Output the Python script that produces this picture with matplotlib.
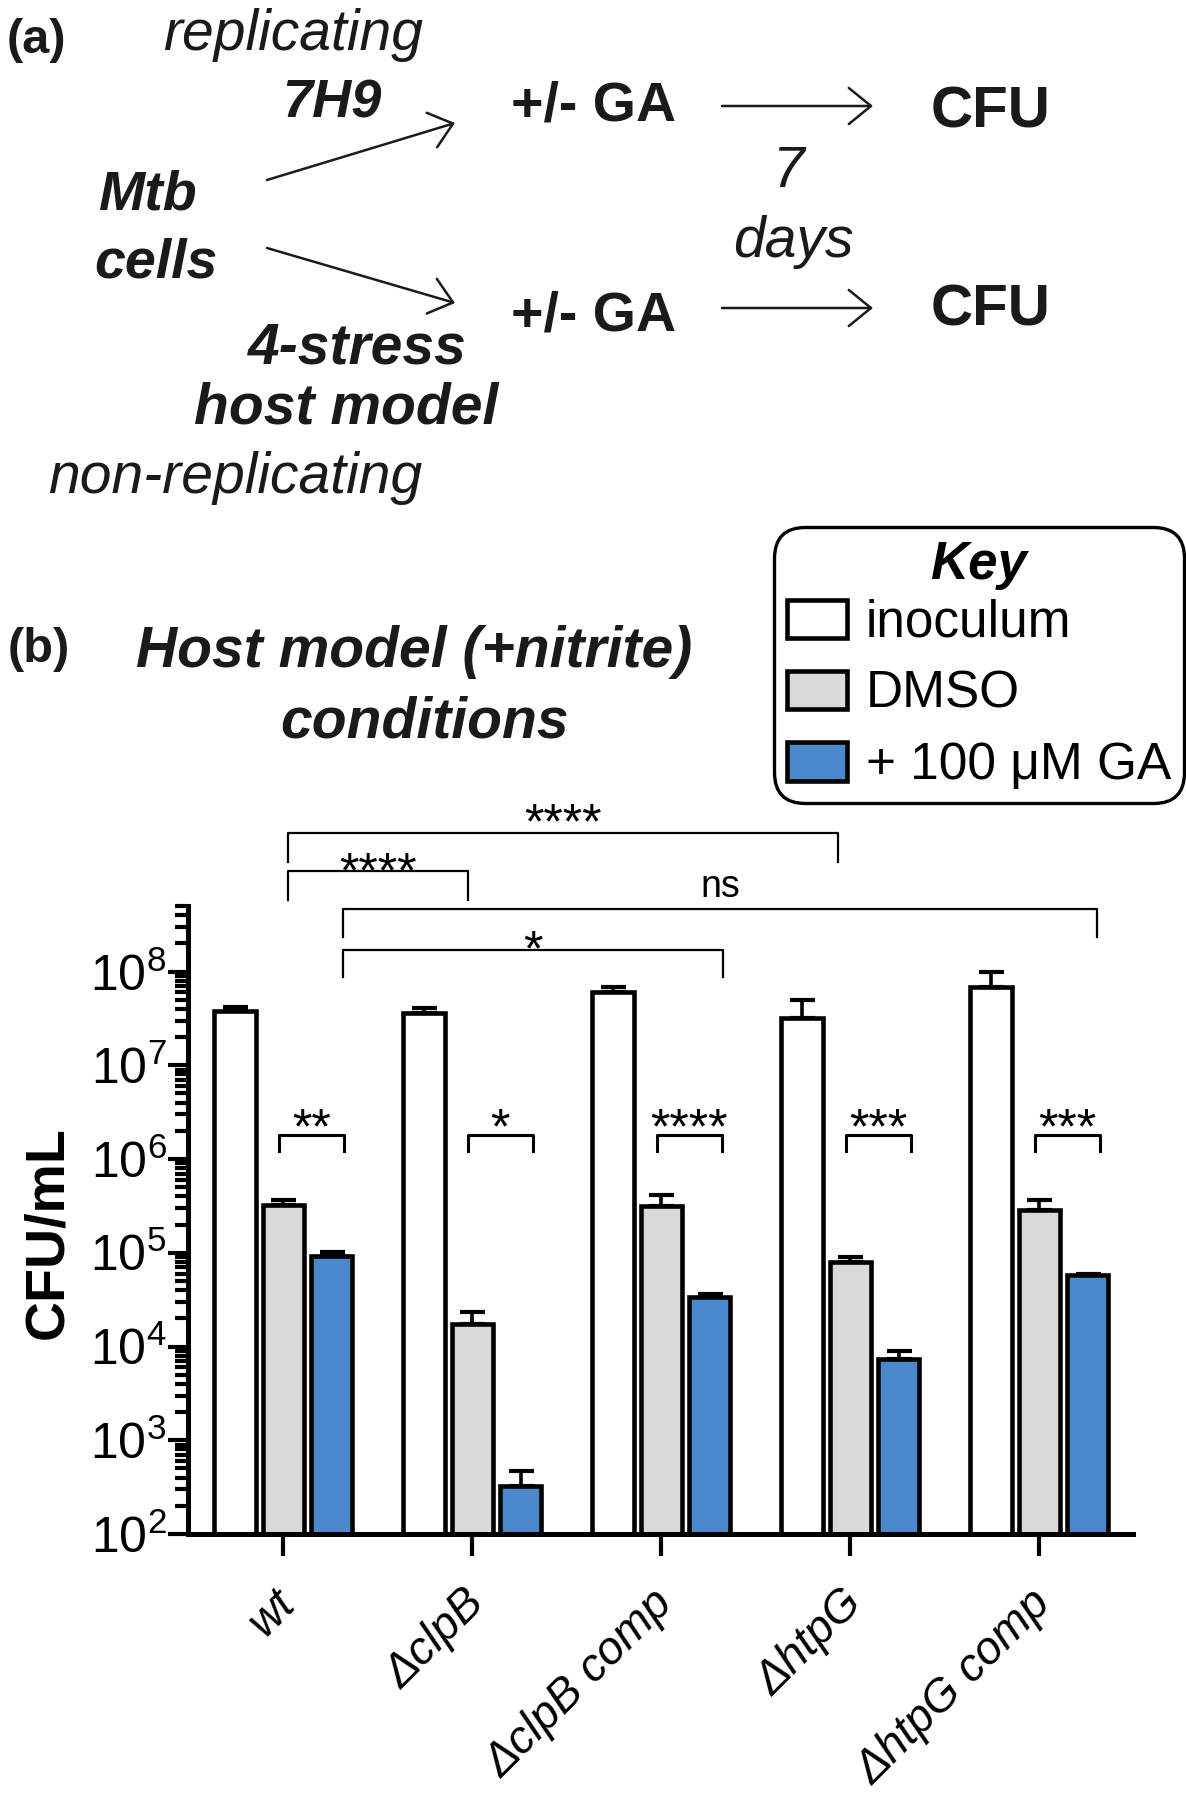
import numpy as np
import matplotlib
matplotlib.use("Agg")
import matplotlib.pyplot as plt
from matplotlib.patches import FancyArrowPatch
from matplotlib.ticker import LogLocator, NullFormatter
from matplotlib.transforms import blended_transform_factory, ScaledTranslation

plt.rcParams["font.family"] = ["Liberation Sans", "DejaVu Sans"]
plt.rcParams["mathtext.fontset"] = "custom"
plt.rcParams["mathtext.rm"] = "Liberation Sans"
plt.rcParams["mathtext.it"] = "Liberation Sans:italic"
plt.rcParams["mathtext.bf"] = "Liberation Sans:bold"

# values (CFU/mL, mean and upper error bar)
strains = ["wt", "ΔclpB", "ΔclpB comp", "ΔhtpG", "ΔhtpG comp"]
inoculum = [3.8e7, 3.65e7, 6.0e7, 3.2e7, 6.8e7]
inoculum_err = [0.4e7, 0.42e7, 0.8e7, 1.8e7, 3.1e7]
dmso = [3.2e5, 1.75e4, 3.15e5, 8.0e4, 2.85e5]
dmso_err = [0.45e5, 0.58e4, 1.0e5, 1.0e4, 0.8e5]
ga = [9.2e4, 325, 3.4e4, 7.4e3, 5.8e4]
ga_err = [1.1e4, 140, 2.5e3, 1.6e3, 1.5e3]
series_names = ["inoculum", "DMSO", "+ 100 μM GA"]
series_colors = ["white", "#d9d9d9", "#4a88c9"]

# significance DMSO vs GA inside each strain
sig_within = ["**", "*", "****", "***", "***"]
# significance between strains: x start, x end, label
sig_between = [(0.03, 2.94, "****"), (0.03, 0.98, "****"),
               (0.32, 4.31, "ns"), (0.32, 2.33, "*")]

W, H = 1186, 1800
fig = plt.figure(figsize=(W / 100, H / 100), dpi=100)


def ftext(px, py, s, **kw):
    fig.text(px / W, 1 - py / H, s, va="baseline", color="#1a1a1a", **kw)


def farrow(p0, p1):
    a = FancyArrowPatch((p0[0] / W, 1 - p0[1] / H), (p1[0] / W, 1 - p1[1] / H),
                        transform=fig.transFigure,
                        arrowstyle="->,head_length=0.8,head_width=0.65",
                        mutation_scale=20, lw=1.8, color="#1a1a1a",
                        shrinkA=0, shrinkB=0)
    fig.add_artist(a)


# ---- panel (a): schematic ----
ftext(7, 53, "(a)", fontsize=35, fontweight="bold")
ftext(163, 50, "replicating", fontsize=41, style="italic")
ftext(332, 118, "7H9", fontsize=39, fontweight="bold", style="italic", ha="center")
ftext(147, 210, "Mtb", fontsize=40, fontweight="bold", style="italic", ha="center")
ftext(156, 278, "cells", fontsize=40, fontweight="bold", style="italic", ha="center")
ftext(511, 120, "+/- GA", fontsize=40, fontweight="bold")
ftext(511, 330, "+/- GA", fontsize=40, fontweight="bold")
ftext(931, 127, "CFU", fontsize=42, fontweight="bold")
ftext(931, 325, "CFU", fontsize=42, fontweight="bold")
ftext(788, 187, "7", fontsize=41, style="italic", ha="center")
ftext(793, 257, "days", fontsize=41, style="italic", ha="center")
ftext(357, 363, "4-stress", fontsize=41, fontweight="bold", style="italic", ha="center")
ftext(346, 423, "host model", fontsize=41, fontweight="bold", style="italic", ha="center")
ftext(48, 493, "non-replicating", fontsize=41, style="italic")
farrow((267, 180), (455, 123))
farrow((267, 248), (455, 303))
farrow((722, 106), (873, 106))
farrow((722, 308), (873, 308))

# ---- panel (b): bar chart ----
ftext(8, 662, "(b)", fontsize=35, fontweight="bold")
ftext(414, 667, "Host model (+nitrite)", fontsize=41, fontweight="bold",
      style="italic", ha="center")
ftext(425, 737, "conditions", fontsize=41, fontweight="bold", style="italic",
      ha="center")

ax = fig.add_axes([188 / W, 1 - 1534 / H, 945 / W, 628 / H])
ax.set_yscale("log")

x = np.arange(len(strains))
offsets = [-0.25, 0.005, 0.26]
width = 0.22
bars = []
for vals, errs, off, col in zip([inoculum, dmso, ga],
                                [inoculum_err, dmso_err, ga_err],
                                offsets, series_colors):
    b = ax.bar(x + off, vals, width, color=col, edgecolor="black",
               linewidth=3.3, zorder=2)
    bars.append(b)
    ax.errorbar(x + off, vals, yerr=[np.zeros(len(vals)), errs], fmt="none",
                ecolor="black", elinewidth=2.6, capsize=9, capthick=3, zorder=3)

ax.set_xlim(-0.5, 4.5)
ax.set_ylim(1e2, 5e8)
ax.set_yticks([10.0 ** k for k in range(2, 9)],
              labels=[f"$10^{{{k}}}$" for k in range(2, 9)])
ax.yaxis.set_minor_locator(LogLocator(base=10, subs=np.arange(2, 10), numticks=50))
ax.yaxis.set_minor_formatter(NullFormatter())
ax.set_xticks(x, labels=strains)

for side in ["top", "right"]:
    ax.spines[side].set_visible(False)
for side in ["left", "bottom"]:
    ax.spines[side].set_linewidth(3.6)

ax.tick_params(axis="y", which="major", length=14.5, width=3, labelsize=36, pad=1)
ax.tick_params(axis="y", which="minor", length=9.5, width=3)
ax.tick_params(axis="x", which="major", length=16, width=3, labelsize=33, pad=18)
shift = ScaledTranslation(-0.09, 0, fig.dpi_scale_trans)
for lbl in ax.get_xticklabels():
    lbl.set_rotation(45)
    lbl.set_ha("right")
    lbl.set_va("top")
    lbl.set_rotation_mode("anchor")
    lbl.set_style("italic")
    lbl.set_transform(lbl.get_transform() + shift)

ax.set_ylabel("CFU/mL", fontsize=40, fontweight="bold")
ax.yaxis.set_label_coords(-0.12, 0.48)

# DMSO vs GA brackets
for i, lab in enumerate(sig_within):
    x1, x2 = i - 0.02, i + 0.325
    ax.plot([x1, x1, x2, x2], [1.22e6, 1.8e6, 1.8e6, 1.22e6], color="black",
            lw=2.2, zorder=4)
    ax.text((x1 + x2) / 2, 1.48e6, lab, ha="center", va="baseline", fontsize=36)

# strain comparison brackets (levels in axes fraction: line, leg end, label)
levels = [(1.116, 1.070, 1.107), (1.056, 1.010, 1.030),
          (0.995, 0.951, 1.014), (0.930, 0.887, 0.906)]
trans = blended_transform_factory(ax.transData, ax.transAxes)
for (x1, x2, lab), (ytop, ybot, ytxt) in zip(sig_between, levels):
    ax.plot([x1, x1, x2, x2], [ybot, ytop, ytop, ybot], transform=trans,
            clip_on=False, color="black", lw=1.6)
    ax.text((x1 + x2) / 2, ytxt, lab, transform=trans, ha="center",
            va="baseline", fontsize=27 if lab == "ns" else 36)

leg = fig.legend(bars, series_names, loc="upper right",
                 bbox_to_anchor=(1184 / W, 1 - 527 / H),
                 bbox_transform=fig.transFigure, fontsize=37, title="Key",
                 title_fontproperties={"weight": "bold", "style": "italic", "size": 38},
                 handlelength=1.17, handleheight=0.78, handletextpad=0.37,
                 borderpad=0.25, labelspacing=0.43, borderaxespad=0,
                 frameon=True, fancybox=True, edgecolor="black", framealpha=1)
leg.get_frame().set_linewidth(2.4)
leg.get_frame().set_boxstyle("round", pad=0, rounding_size=0.6)
# tighter gap between the "Key" title and the first entry
leg._legend_box.sep = 6.5

fig.savefig("out.png", dpi=100)
